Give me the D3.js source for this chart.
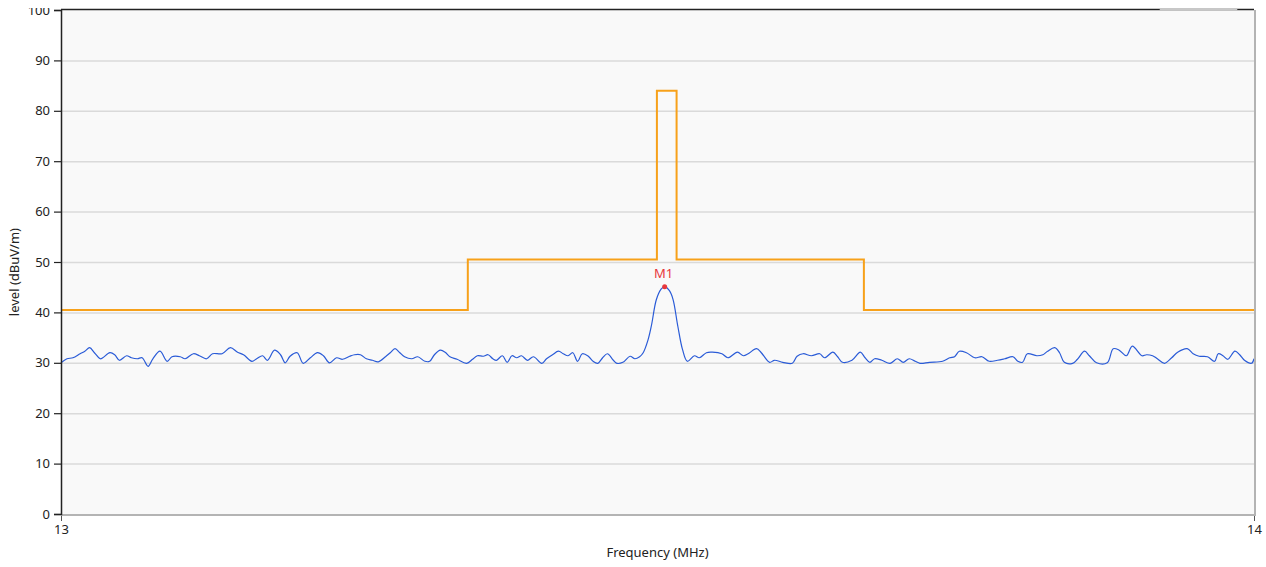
<!DOCTYPE html>
<html>
<head>
<meta charset="utf-8">
<script src="https://cdn.jsdelivr.net/npm/d3@7"></script>
<style>
  body { margin: 0; background: #ffffff; }
  svg { display: block; font-family: "Noto Sans", "DejaVu Sans", sans-serif; }
</style>
</head>
<body>
<svg id="chart"></svg>
<script>
// Measured trace (MHz, dBuV/m)
const traceFreq = [
  13.000, 13.005, 13.010, 13.016, 13.020, 13.024, 13.028, 13.033, 13.035, 13.041,
  13.045, 13.049, 13.055, 13.059, 13.064, 13.068, 13.073, 13.077, 13.083, 13.089,
  13.093, 13.100, 13.104, 13.111, 13.116, 13.122, 13.127, 13.135, 13.142, 13.148,
  13.153, 13.160, 13.164, 13.169, 13.173, 13.179, 13.184, 13.188, 13.192, 13.198,
  13.203, 13.209, 13.215, 13.220, 13.225, 13.231, 13.236, 13.242, 13.246, 13.251,
  13.256, 13.261, 13.266, 13.272, 13.276, 13.280, 13.284, 13.288, 13.294, 13.299,
  13.305, 13.309, 13.313, 13.318, 13.322, 13.326, 13.332, 13.340, 13.345, 13.349,
  13.354, 13.358, 13.362, 13.365, 13.370, 13.374, 13.378, 13.382, 13.386, 13.391,
  13.396, 13.403, 13.407, 13.412, 13.417, 13.421, 13.425, 13.429, 13.433, 13.437,
  13.442, 13.446, 13.450, 13.454, 13.458, 13.463, 13.466, 13.471, 13.477, 13.481,
  13.485, 13.488, 13.492, 13.495, 13.499, 13.503, 13.506, 13.510, 13.513, 13.517,
  13.521, 13.525, 13.531, 13.535, 13.541, 13.546, 13.554, 13.559, 13.567, 13.572,
  13.576, 13.583, 13.587, 13.594, 13.598, 13.605, 13.613, 13.617, 13.622, 13.629,
  13.636, 13.640, 13.647, 13.651, 13.655, 13.663, 13.670, 13.674, 13.678, 13.682,
  13.688, 13.695, 13.701, 13.706, 13.711, 13.716, 13.720, 13.728, 13.739, 13.745,
  13.749, 13.753, 13.759, 13.766, 13.772, 13.778, 13.785, 13.791, 13.798, 13.802,
  13.806, 13.810, 13.818, 13.823, 13.827, 13.833, 13.837, 13.841, 13.848, 13.852,
  13.858, 13.862, 13.868, 13.877, 13.882, 13.887, 13.893, 13.898, 13.906, 13.910,
  13.915, 13.919, 13.925, 13.931, 13.936, 13.944, 13.949, 13.954, 13.961, 13.967,
  13.970, 13.974, 13.978, 13.984, 13.988, 13.992, 13.998, 14.000
];
const traceLevel = [
  30.0, 30.8, 31.0, 31.8, 32.3, 33.0, 32.0, 30.8, 31.0, 32.0,
  31.6, 30.5, 31.4, 31.0, 30.8, 31.0, 29.3, 30.8, 32.3, 30.3,
  31.2, 31.2, 30.8, 31.8, 31.4, 30.8, 31.8, 31.8, 33.0, 32.1,
  31.6, 30.3, 30.8, 31.4, 30.5, 32.5, 31.6, 30.0, 31.3, 32.0,
  29.9, 31.0, 32.0, 31.4, 30.0, 31.0, 30.7, 31.3, 31.6, 31.6,
  30.8, 30.5, 30.2, 31.2, 32.0, 32.8, 32.0, 31.2, 30.8, 31.2,
  30.3, 30.3, 31.6, 32.5, 32.1, 31.2, 30.7, 29.9, 30.7, 31.4,
  31.3, 31.6, 30.8, 30.5, 31.4, 30.1, 31.4, 31.0, 31.4, 30.5,
  31.2, 29.9, 30.8, 31.6, 32.3, 31.8, 31.4, 32.0, 30.3, 31.8,
  31.3, 30.3, 29.9, 31.0, 31.8, 30.5, 29.9, 30.1, 31.3, 30.8,
  31.2, 32.0, 34.5, 37.5, 42.5, 44.6, 45.1, 44.3, 42.6, 37.3,
  32.6, 30.3, 31.4, 31.0, 32.0, 32.1, 31.8, 31.0, 32.1, 31.4,
  31.8, 32.8, 32.0, 30.1, 30.5, 30.1, 29.9, 31.3, 31.8, 31.4,
  31.8, 31.0, 32.1, 31.2, 30.1, 30.5, 32.1, 31.0, 30.1, 30.8,
  30.5, 29.9, 30.8, 30.1, 30.8, 30.3, 29.9, 30.1, 30.3, 31.0,
  31.2, 32.3, 32.0, 31.0, 31.2, 30.3, 30.5, 30.8, 31.2, 30.3,
  30.1, 31.8, 31.4, 31.6, 32.3, 33.0, 32.0, 30.1, 29.9, 30.7,
  32.3, 31.4, 30.0, 30.0, 32.8, 32.5, 31.4, 33.3, 31.4, 31.6,
  31.4, 30.8, 29.9, 31.0, 32.1, 32.8, 31.8, 31.3, 31.2, 30.3,
  31.8, 31.4, 30.7, 32.3, 31.6, 30.5, 29.9, 30.8
];

// Limit line break points (step after)
const limitFreq = [13.000, 13.341, 13.4995, 13.516, 13.673, 14.000];
const limitLevel = [40.5, 50.5, 84.0, 50.5, 40.5, 40.5];

// Marker
const markerName = "M1";
const markerFreq = 13.506;
const markerLevel = 45.1;

const yTicks = [0, 10, 20, 30, 40, 50, 60, 70, 80, 90, 100];
const xTicks = [13, 14];

const width = 1266, height = 567;
const margin = {top: 10, right: 12, bottom: 53, left: 61};
const innerW = width - margin.left - margin.right;
const innerH = height - margin.top - margin.bottom;

const svg = d3.select("#chart")
    .attr("width", width)
    .attr("height", height);

const x = d3.scaleLinear().domain([13, 14]).range([margin.left, width - margin.right]);
const y = d3.scaleLinear().domain([0, 100]).range([height - margin.bottom, margin.top]);

// plot background
svg.append("rect")
   .attr("x", margin.left).attr("y", margin.top)
   .attr("width", innerW).attr("height", innerH)
   .attr("fill", "#f9f9f9");

// horizontal grid
svg.append("g")
   .selectAll("line")
   .data(yTicks.filter(d => d > 0 && d < 100))
   .join("line")
   .attr("x1", margin.left).attr("x2", width - margin.right)
   .attr("y1", d => y(d) + 0.5).attr("y2", d => y(d) + 0.5)
   .attr("stroke", "#dadada")
   .attr("stroke-width", 1.5);

// limit line
const limitData = limitFreq.map((f, i) => ({f: f, v: limitLevel[i]}));
svg.append("path")
   .datum(limitData)
   .attr("fill", "none")
   .attr("stroke", "#f7a11a")
   .attr("stroke-width", 2)
   .attr("d", d3.line().curve(d3.curveStepAfter).x(d => x(d.f)).y(d => y(d.v)));

// trace
const traceData = traceFreq.map((f, i) => ({f: f, v: traceLevel[i]}));
svg.append("path")
   .datum(traceData)
   .attr("fill", "none")
   .attr("stroke", "#2a5bd7")
   .attr("stroke-width", 1.2)
   .attr("stroke-linejoin", "round")
   .attr("d", d3.line().curve(d3.curveCatmullRom.alpha(0.5)).x(d => x(d.f)).y(d => y(d.v)));

// marker
svg.append("circle")
   .attr("cx", x(markerFreq)).attr("cy", y(markerLevel))
   .attr("r", 2.5)
   .attr("fill", "#e8383d");
svg.append("text")
   .attr("x", x(markerFreq) - 1).attr("y", y(markerLevel) - 9)
   .attr("text-anchor", "middle")
   .attr("fill", "#e8383d")
   .style("font-size", "13px")
   .text(markerName);

// frame: right and bottom gray, left and top dark
svg.append("line")
   .attr("x1", width - margin.right + 1).attr("x2", width - margin.right + 1)
   .attr("y1", margin.top).attr("y2", height - margin.bottom + 1)
   .attr("stroke", "#b4b4b4").attr("stroke-width", 2);
svg.append("line")
   .attr("x1", margin.left).attr("x2", width - margin.right + 2)
   .attr("y1", height - margin.bottom + 1).attr("y2", height - margin.bottom + 1)
   .attr("stroke", "#b4b4b4").attr("stroke-width", 2);
svg.append("line")
   .attr("x1", margin.left).attr("x2", width - margin.right)
   .attr("y1", margin.top - 0.5).attr("y2", margin.top - 0.5)
   .attr("stroke", "#222").attr("stroke-width", 1.5);
// faint gap in top border (hidden legend area)
svg.append("line")
   .attr("x1", x(13.921)).attr("x2", x(13.986))
   .attr("y1", margin.top - 0.5).attr("y2", margin.top - 0.5)
   .attr("stroke", "#c8c8c8").attr("stroke-width", 1.5);

// y axis (top label is cut off like in the original)
svg.append("defs").append("clipPath").attr("id", "yclip")
   .append("rect").attr("x", -margin.left).attr("y", 8).attr("width", margin.left + 2).attr("height", height);

const yAxis = svg.append("g")
   .attr("clip-path", "url(#yclip)")
   .attr("transform", `translate(${margin.left},0)`)
   .call(d3.axisLeft(y).tickValues(yTicks).tickSize(7).tickPadding(4))
   .call(g => g.select(".domain").attr("stroke", "#222").attr("stroke-width", 1.5));
yAxis.selectAll(".tick line").attr("stroke", "#222").attr("stroke-width", 1.2);
yAxis.selectAll(".tick text")
   .attr("fill", "#222")
   .style("font-size", "13px")
   .style("font-family", "'Noto Sans', 'DejaVu Sans', sans-serif");

// x axis
const xAxis = svg.append("g")
   .attr("transform", `translate(0,${height - margin.bottom + 2})`)
   .call(d3.axisBottom(x).tickValues(xTicks).tickSize(5).tickPadding(4).tickFormat(d3.format("d")))
   .call(g => g.select(".domain").remove());
xAxis.selectAll(".tick line").attr("stroke", "#555");
xAxis.selectAll(".tick text")
   .attr("fill", "#222")
   .style("font-size", "13px")
   .style("font-family", "'Noto Sans', 'DejaVu Sans', sans-serif");

// axis titles
svg.append("text")
   .attr("x", x(13.5)).attr("y", height - 10)
   .attr("text-anchor", "middle")
   .attr("fill", "#222")
   .style("font-size", "13px")
   .text("Frequency (MHz)");

svg.append("text")
   .attr("transform", `translate(19,${y(48)}) rotate(-90)`)
   .attr("text-anchor", "middle")
   .attr("fill", "#222")
   .style("font-size", "13px")
   .text("level (dBuV/m)");
</script>
</body>
</html>
